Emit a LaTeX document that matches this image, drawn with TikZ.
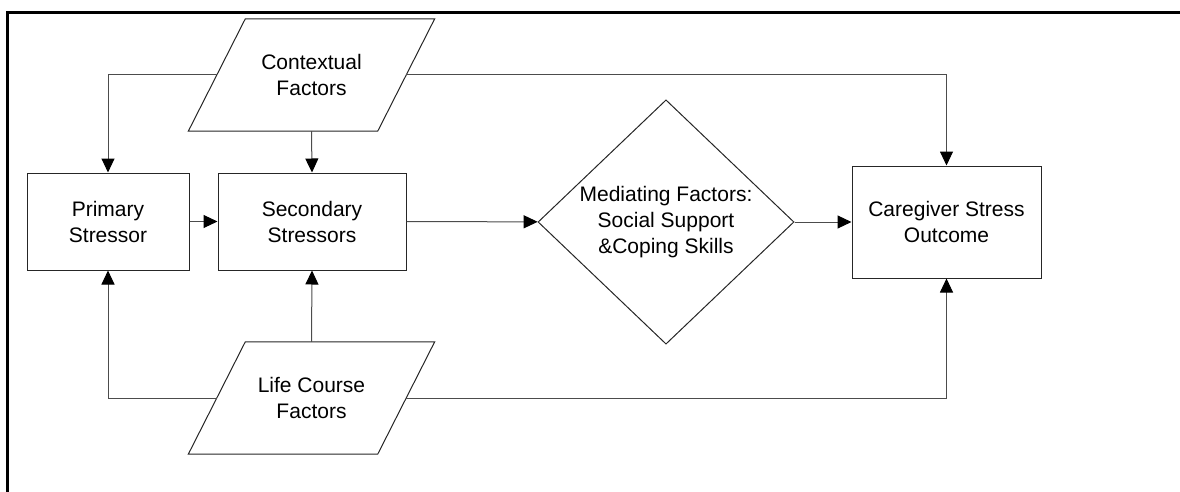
\documentclass[tikz,border=0pt]{standalone}
\usepackage{fontspec}
\setmainfont{Liberation Sans}
\usetikzlibrary{shapes.geometric,arrows.meta}

\tikzset{
	box/.style={draw=black!85, line width=1pt, minimum width=#1, minimum height=97pt, inner sep=0pt, align=center},
	factor/.style={minimum width=189pt, minimum height=112pt, inner sep=0pt, align=center},
	slant/.style={draw=black!85, line width=1pt},
	link/.style={draw=black!70, line width=1pt, -{Triangle[length=14pt,width=13pt,color=black]}},
}

\begin{document}
\begin{tikzpicture}[x=1pt, y=-1pt, font=\fontsize{21}{26}\selectfont]
	\useasboundingbox (0,0) rectangle (1180,492);
	
	% Kehys
	\draw[line width=2.5pt] (7.5,492) -- (7.5,12.5) -- (1180,12.5);
	
	% Tekijat (suunnikkaat)
	\node[factor] (ctx) at (311.5,75) {Contextual\\Factors};
	\draw[slant] ([xshift=-28.5pt]ctx.south west) -- ([xshift=-28.5pt]ctx.south east)
		-- ([xshift=28.5pt]ctx.north east) -- ([xshift=28.5pt]ctx.north west) -- cycle;
	\node[factor] (life) at (311.5,398) {Life Course\\Factors};
	\draw[slant] ([xshift=-28.5pt]life.south west) -- ([xshift=-28.5pt]life.south east)
		-- ([xshift=28.5pt]life.north east) -- ([xshift=28.5pt]life.north west) -- cycle;
	
	% Stressorit
	\node[box=162pt] (prim) at (108,221.5) {Primary\\Stressor};
	\node[box=188pt] (sec) at (312,221.5) {Secondary\\Stressors};
	
	% Valittavat tekijat
	\node[slant, diamond, minimum width=256pt, minimum height=226pt, inner sep=0pt, align=center] (med) at (666,222) {Mediating Factors:\\Social Support\\\&Coping Skills};
	
	% Lopputulos
	\node[slant, minimum width=189pt, minimum height=112pt, inner sep=0pt, align=center] (out) at (946.5,222) {Caregiver Stress\\Outcome};
	
	% Nuolet
	\draw[link] (ctx.west) -| (prim.north);
	\draw[link] (ctx.south) -- (sec.north);
	\draw[link] (ctx.east) -| (out.north);
	\draw[link] (prim) -- (sec);
	\draw[link] (sec) -- (med);
	\draw[link] (med) -- (out);
	\draw[link] (life.north) -- (sec.south);
	\draw[link] (life.west) -| (prim.south);
	\draw[link] (life.east) -| (out.south);
\end{tikzpicture}
\end{document}
